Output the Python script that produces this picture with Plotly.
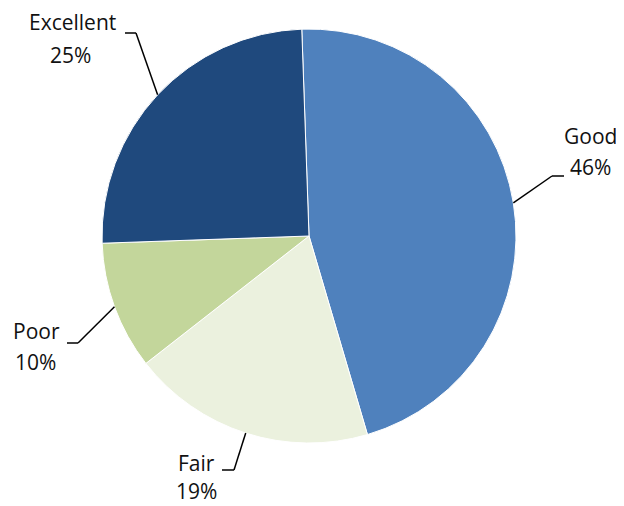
import math
import plotly.graph_objects as go

# ---- data ----
categories = ["Good", "Fair", "Poor", "Excellent"]
percents = [46, 19, 10, 25]
colors = ["#4F81BD", "#EBF1DE", "#C3D69B", "#1F497D"]

# page is shown with the default 8px body margin; figure sized to fit the window
OFF = 8
W, H = 624 - OFF, 506 - OFF
CX, CY, R = 309, 236, 207  # page pixels
ROTATION = -2

label_layout = {
    "Good":      dict(elbow=(552, 176), end=(564, 176), name=(590, 136), pct=(590, 167)),
    "Fair":      dict(elbow=(234, 470), end=(222, 470), name=(196, 463), pct=(196, 491)),
    "Poor":      dict(elbow=(78, 343),  end=(67, 343),  name=(36, 331),  pct=(35, 362)),
    "Excellent": dict(elbow=(136, 33),  end=(125, 33),  name=(72, 22),   pct=(70, 55)),
}

def px(x):
    return (x - OFF) / W

def py(y):
    return 1 - (y - OFF) / H

fig = go.Figure(go.Pie(
    labels=categories,
    values=percents,
    sort=False,
    direction="clockwise",
    rotation=ROTATION,
    marker=dict(colors=colors, line=dict(color="white", width=1)),
    textinfo="none",
    hoverinfo="label+percent",
    showlegend=False,
    domain=dict(x=[px(CX - R), px(CX + R)], y=[py(CY + R), py(CY - R)]),
))

total = sum(percents)
cum = 0
shapes = []
annotations = []
font = dict(family="'Open Sans', Lato, sans-serif", size=21, color="#111111")
for cat, val in zip(categories, percents):
    mid = cum + val / 2
    cum += val
    ang = math.radians(ROTATION + 360 * mid / total)
    sx = CX + R * math.sin(ang)
    sy = CY - R * math.cos(ang)
    L = label_layout[cat]
    ex, ey = L["elbow"]
    tx, ty = L["end"]
    shapes.append(dict(type="line", xref="paper", yref="paper",
                       x0=px(sx), y0=py(sy), x1=px(ex), y1=py(ey),
                       line=dict(color="black", width=1.5)))
    shapes.append(dict(type="line", xref="paper", yref="paper",
                       x0=px(ex), y0=py(ey), x1=px(tx), y1=py(ty),
                       line=dict(color="black", width=1.5)))
    nx, ny = L["name"]
    qx, qy = L["pct"]
    annotations.append(dict(x=px(nx), y=py(ny), xref="paper", yref="paper",
                            text=cat, showarrow=False, font=font, borderpad=0,
                            xanchor="center", yanchor="middle"))
    annotations.append(dict(x=px(qx), y=py(qy), xref="paper", yref="paper",
                            text=f"{val}%", showarrow=False, font=font, borderpad=0,
                            xanchor="center", yanchor="middle"))

fig.update_layout(
    width=W, height=H,
    margin=dict(l=0, r=0, t=0, b=0),
    paper_bgcolor="white",
    plot_bgcolor="white",
    shapes=shapes,
    annotations=annotations,
)

fig.write_html("out.html")
